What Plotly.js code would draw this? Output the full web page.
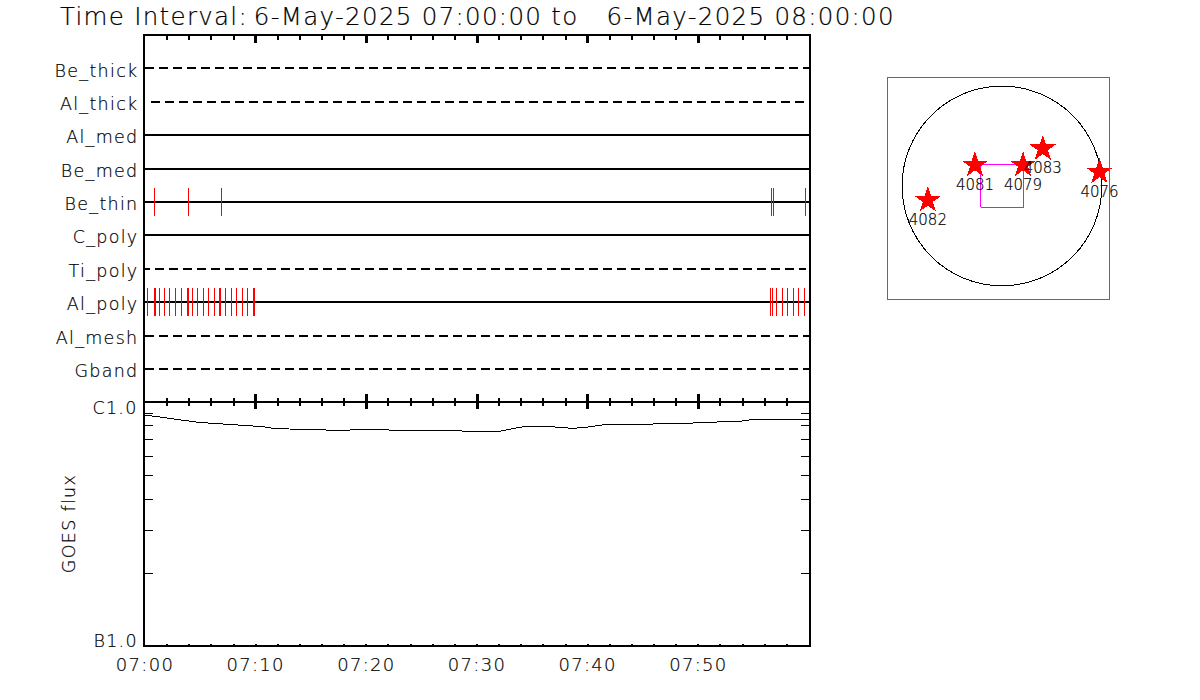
<!DOCTYPE html>
<html>
<head>
<meta charset="utf-8">
<script src="https://cdn.plot.ly/plotly-3.0.1.min.js"></script>
<style>
html,body{margin:0;padding:0;background:#fff}
#plot{width:1200px;height:700px}
#plot svg path{shape-rendering:crispEdges}
#plot svg text{letter-spacing:1.3px;stroke:#000;stroke-width:0.2px}
#plot svg .textpoint text{letter-spacing:0}
</style>
</head>
<body>
<div id="plot"></div>
<script>
// ---------- data ----------
var titleParts = ["Time Interval:","6-May-2025 07:00:00 to","6-May-2025 08:00:00"];
var channels   = ["Gband","Al_mesh","Al_poly","Ti_poly","C_poly","Be_thin","Be_med","Al_med","Al_thick","Be_thick"];
var chanDashed = [true,true,false,true,false,false,false,false,true,true];
var chanStart  = [0,0,0,-24,0,0,0,0,32,0];        // seconds after 07:00
var chanEnd    = [3600,3600,3600,3586,3600,3600,3600,3600,3575,3600];

var beThinEvents = [53,237,415,3398,3407,3582];
var alPolyEvents = [15,49,55,81,107,135,168,197,228,234,260,287,318,346,376,405,411,437,470,498,529,557,590,596,
                    3393,3402,3423,3456,3483,3515,3542,3575];

var goesSeconds = [0,154,289,445,636,696,814,1058,1230,1368,1707,1722,1923,1978,2070,2196,2313,2372,2518,2556,2664,2854,2968,2988,3210,3276,3546,3600];
var goesFlux = [8.85e-7,8.50e-7,8.26e-7,8.11e-7,7.93e-7,7.81e-7,7.74e-7,7.66e-7,7.74e-7,7.66e-7,7.66e-7,7.59e-7,7.59e-7,7.74e-7,7.98e-7,7.93e-7,7.81e-7,7.85e-7,8.13e-7,8.08e-7,8.08e-7,8.19e-7,8.19e-7,8.26e-7,8.31e-7,8.45e-7,8.45e-7,8.52e-7];

var majorTickSeconds = [0,600,1200,1800,2400,3000];
var timeTickLabels = ["07:00","07:10","07:20","07:30","07:40","07:50"];

var fluxTicks = [2e-7,3e-7,4e-7,5e-7,6e-7,7e-7,8e-7,9e-7];

var arNumbers = ["4082","4081","4079","4083","4076"];
var arX = [-705,-257,200,388,927];     // arcsec
var arY = [-136,200,200,355,133];
var solarRadius = 950;
var fovX = [-200,200,200,-200,-200];
var fovY = [-200,-200,200,200,-200];

// ---------- helpers ----------
var FONT = "DejaVu Sans";
function pad(n){return (n<10?"0":"")+n;}
function toDate(s){
  var base = 7*3600 + s;
  var h = Math.floor(base/3600), m = Math.floor((base%3600)/60), c = Math.floor(base%60);
  return "2025-05-06 "+pad(h)+":"+pad(m)+":"+pad(c);
}
function dates(a){return a.map(toDate);}
function yfrac(p){return 1-p/700;}
function xfrac(p){return p/1200;}
var timeRange = [toDate(0),toDate(3600)];
var txt = function(size,color){return {family:FONT,size:size,color:color||"#000",weight:200};};
var xDomain = [xfrac(145),xfrac(809)];
var minorUp = {ticks:"inside",ticklen:3.5,tickwidth:2,tickcolor:"#000",tickmode:"linear",tick0:toDate(0),dtick:120000};
var titleText = titleParts[0]+'<span style="font-size:5px">\u00a0\u00a0</span>'+
                titleParts[1]+'<span style="font-size:40px">\u00a0\u00a0</span>'+titleParts[2];

// ---------- traces ----------
var traces = [];
channels.forEach(function(name,i){
  traces.push({type:"scatter",mode:"lines",xaxis:"x",yaxis:"y",
    x:[toDate(chanStart[i]),toDate(chanEnd[i])],y:[i+1,i+1],
    line:{color:"#000",width:2,dash:chanDashed[i]?"9px,5px":"solid"},
    hoverinfo:"skip",showlegend:false});
});
function eventTrace(events,level){
  var xs=[],ys=[];
  events.forEach(function(t){xs.push(toDate(t),toDate(t),null);ys.push(level-0.42,level+0.42,null);});
  return {type:"scatter",mode:"lines",xaxis:"x",yaxis:"y",x:xs,y:ys,
    line:{color:"#ff0000",width:1},hoverinfo:"skip",showlegend:false};
}
traces.push(eventTrace(beThinEvents,channels.indexOf("Be_thin")+1));
traces.push(eventTrace(alPolyEvents,channels.indexOf("Al_poly")+1));
traces.push({type:"scatter",mode:"lines",xaxis:"x2",yaxis:"y2",x:dates(goesSeconds),y:goesFlux,
  line:{color:"#000",width:1},hoverinfo:"skip",showlegend:false});
traces.push({type:"scatter",mode:"lines",xaxis:"x4",yaxis:"y2",x:[],y:[],showlegend:false,hoverinfo:"skip"});
traces.push({type:"scatter",mode:"lines",xaxis:"x2",yaxis:"y4",x:[],y:[],showlegend:false,hoverinfo:"skip"});
traces.push({type:"scatter",mode:"lines",xaxis:"x3",yaxis:"y3",x:fovX,y:fovY,
  line:{color:"#ff00ff",width:1},hoverinfo:"skip",showlegend:false});
traces.push({type:"scatter",mode:"markers+text",xaxis:"x3",yaxis:"y3",x:arX,y:arY,text:arNumbers,
  textposition:"bottom center",textfont:txt(15),cliponaxis:false,
  marker:{symbol:"star",size:20,color:"#ff0000",line:{width:0}},hoverinfo:"skip",showlegend:false});

// ---------- layout ----------
var frame = {showline:true,linecolor:"#000",linewidth:2,mirror:true,showgrid:false,zeroline:false};
var layout = {
  width:1200,height:700,margin:{l:0,r:0,t:0,b:0,autoexpand:false},
  paper_bgcolor:"#fff",plot_bgcolor:"#fff",showlegend:false,
  title:{text:titleText,xref:"container",yref:"container",x:60/1200,xanchor:"left",y:1-16/700,yanchor:"middle",
         font:txt(24.5),pad:{l:0,r:0,t:0,b:0}},
  xaxis:Object.assign({},frame,{domain:xDomain,range:timeRange,type:"date",anchor:"y",
    ticks:"inside",ticklen:7,tickwidth:3,tickcolor:"#000",mirror:"allticks",showticklabels:false,
    tickmode:"array",tickvals:dates(majorTickSeconds),
    minor:minorUp}),
  yaxis:Object.assign({},frame,{domain:[yfrac(401),yfrac(36)],range:[0.04,10.97],anchor:"x",
    tickmode:"array",tickvals:channels.map(function(c,i){return i+1;}),ticktext:channels,
    ticks:"",tickfont:txt(17.5),ticklabelstandoff:1,ticklabelshift:2}),
  xaxis2:{showline:true,linecolor:"#000",linewidth:2,mirror:false,showgrid:false,zeroline:false,
    domain:xDomain,range:timeRange,type:"date",anchor:"y2",
    ticks:"inside",ticklen:1.5,tickwidth:2,tickcolor:"#000",
    tickmode:"array",tickvals:dates(majorTickSeconds),ticktext:timeTickLabels,tickfont:txt(18),ticklabelstandoff:2,
    minor:{ticks:"inside",ticklen:1,tickwidth:2,tickcolor:"#000",tickmode:"linear",tick0:toDate(0),dtick:120000}},
  xaxis4:{domain:xDomain,range:timeRange,type:"date",anchor:"y2",overlaying:"x2",side:"top",
    showline:false,showgrid:false,zeroline:false,showticklabels:false,
    ticks:"inside",ticklen:7,tickwidth:3,tickcolor:"#000",
    tickmode:"array",tickvals:dates(majorTickSeconds),
    minor:minorUp},
  yaxis2:Object.assign({},frame,{domain:[yfrac(645),yfrac(402)],type:"log",range:[-6.992,-6],anchor:"x2",
    tickmode:"array",tickvals:fluxTicks,ticktext:fluxTicks.map(function(){return "";}),
    ticks:"inside",ticklen:8,tickwidth:1,tickcolor:"#000",
    title:{text:"GOES flux",font:txt(17.5),standoff:60}}),
  yaxis4:{domain:[yfrac(645),yfrac(402)],type:"log",range:[-6.992,-6],anchor:"x2",overlaying:"y2",side:"right",
    showline:false,showgrid:false,zeroline:false,showticklabels:false,
    tickmode:"array",tickvals:fluxTicks,ticks:"inside",ticklen:8,tickwidth:1,tickcolor:"#000"},
  xaxis3:{domain:[xfrac(888),xfrac(1109)],range:[-1084,1017.6],anchor:"y3",showline:true,linecolor:"#ff00ff",linewidth:1,mirror:true,
    showgrid:false,zeroline:false,showticklabels:false,ticks:""},
  yaxis3:{domain:[yfrac(299),yfrac(78)],range:[-1075,1027],anchor:"x3",showline:true,linecolor:"#ff00ff",linewidth:1,mirror:true,
    showgrid:false,zeroline:false,showticklabels:false,ticks:""},
  shapes:[
    {type:"circle",xref:"x3",yref:"y3",x0:-solarRadius,x1:solarRadius,y0:-solarRadius,y1:solarRadius,
     line:{color:"#000",width:1},layer:"below"}
  ],
  annotations:[
    {text:"C1.0",xref:"paper",yref:"y2",x:xfrac(137),y:-6,xanchor:"right",yanchor:"middle",yshift:-6,showarrow:false,font:txt(17.5)},
    {text:"B1.0",xref:"paper",yref:"y2",x:xfrac(137),y:-6.992,xanchor:"right",yanchor:"middle",yshift:4,showarrow:false,font:txt(17.5)}
  ]
};
Plotly.newPlot("plot",traces,layout,{staticPlot:true,displayModeBar:false});
</script>
</body>
</html>
